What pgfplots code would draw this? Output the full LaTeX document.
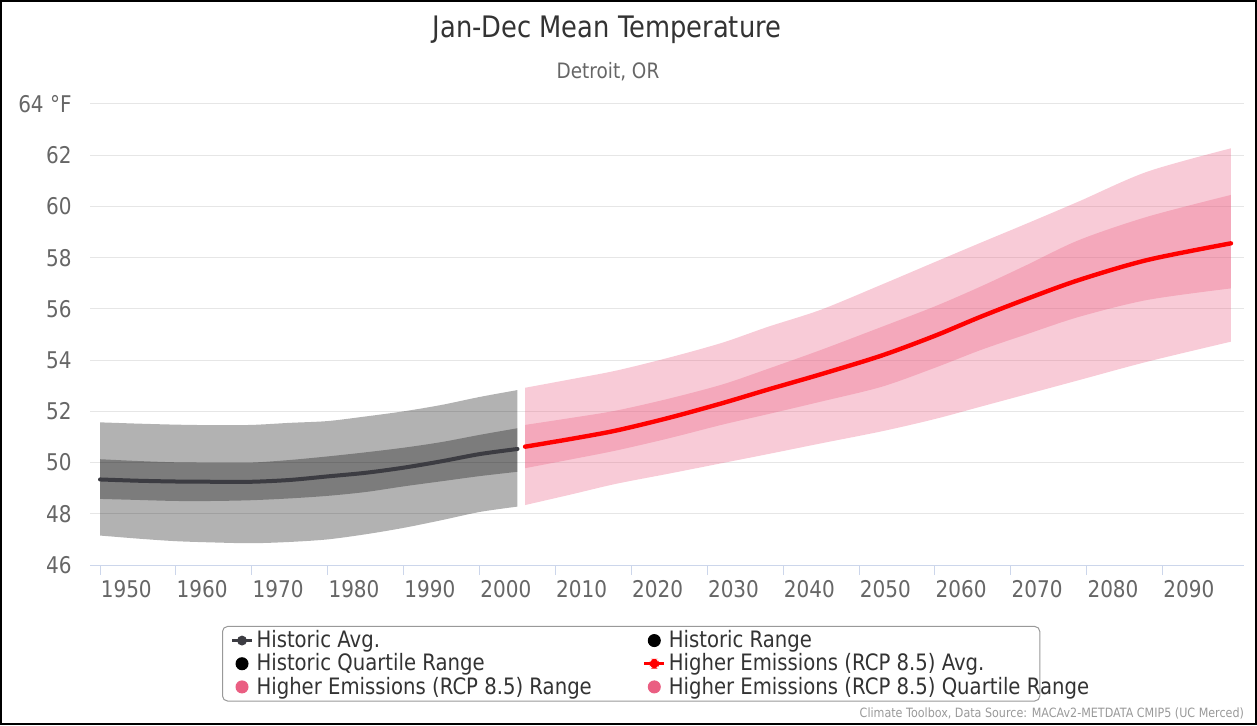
\documentclass[border=0pt]{standalone}
\usepackage{pgfplots}
\pgfplotsset{compat=1.18}
\usepackage{pgfplotstable}
\usepgfplotslibrary{fillbetween}
\usepackage{fontspec}
\setmainfont{DejaVu Sans}[FakeStretch=0.87]

\definecolor{histline}{RGB}{60,60,66}
\definecolor{futline}{RGB}{255,0,0}
\definecolor{futdot}{RGB}{234,94,130}
\definecolor{gridcol}{RGB}{230,230,230}
\definecolor{axiscol}{RGB}{204,214,235}
\definecolor{labelcol}{RGB}{102,102,102}
\definecolor{titlecol}{RGB}{51,51,51}
\definecolor{legborder}{RGB}{153,153,153}

% historic 1950-2005
\pgfplotstableread{
year lo    qlo   mean  qhi   hi
1950 47.15 48.58 49.34 50.13 51.57
1955 47.03 48.54 49.29 50.06 51.52
1960 46.93 48.50 49.26 50.01 51.48
1965 46.88 48.50 49.25 50.00 51.46
1970 46.85 48.53 49.25 50.00 51.47
1975 46.90 48.60 49.32 50.10 51.55
1980 47.00 48.70 49.46 50.24 51.62
1985 47.20 48.85 49.60 50.40 51.80
1990 47.45 49.07 49.80 50.58 52.00
1995 47.75 49.27 50.05 50.80 52.25
2000 48.07 49.47 50.33 51.08 52.56
2005 48.28 49.64 50.53 51.34 52.83
}\hist

% RCP 8.5, 2006-2099
\pgfplotstableread{
year lo    qlo   mean  qhi   hi
2006 48.34 49.78 50.62 51.47 52.92
2012 48.75 50.12 50.92 51.74 53.25
2018 49.17 50.47 51.25 52.03 53.59
2025 49.57 50.95 51.75 52.50 54.10
2032 49.98 51.48 52.32 53.05 54.68
2038 50.33 51.89 52.85 53.66 55.30
2045 50.75 52.38 53.45 54.40 55.97
2053 51.22 52.96 54.18 55.30 56.95
2060 51.70 53.70 54.95 56.10 57.83
2066 52.18 54.39 55.69 56.87 58.58
2072 52.66 55.00 56.38 57.70 59.32
2079 53.22 55.69 57.13 58.69 60.20
2088 53.94 56.35 57.91 59.60 61.36
2099 54.72 56.80 58.56 60.45 62.27
}\rcp

\begin{document}
\begin{tikzpicture}
\begin{axis}[
    at={(0,0)}, anchor=south west, name=ax,
    scale only axis, width=577pt, height=230.5pt,
    xmin=1948.68, xmax=2100.72, ymin=46, ymax=64,
    axis x line*=bottom, axis y line*=left,
    axis line style={-},
    x axis line style={draw=axiscol, line width=0.5pt},
    y axis line style={draw=none},
    xtick={1950,1960,...,2090},
    xticklabels={1950,1960,1970,1980,1990,2000,2010,2020,2030,2040,2050,2060,2070,2080,2090},
    ytick={46,48,...,64},
    yticklabels={46,48,50,52,54,56,58,60,62,64 °F},
    tick align=outside, major tick length=5pt,
    xtick style={draw=axiscol, line width=0.5pt},
    ytick style={draw=none},
    ymajorgrids, grid style={draw=gridcol, line width=0.5pt},
    tick label style={font=\fontsize{11.5}{13}\selectfont, text=labelcol},
    xticklabel style={anchor=north west, inner sep=0pt, xshift=0.2pt, yshift=-2.5pt},
    yticklabel style={anchor=east, inner sep=0pt, xshift=-4pt},
    legend columns=2,
    legend cell align=left,
    legend style={at={(axis description cs:0.1144,-0.1323)}, anchor=north west,
        draw=legborder, line width=0.5pt, rounded corners=2.5pt, fill=white,
        inner xsep=4pt, inner ysep=2pt,
        font=\fontsize{11.3}{13}\selectfont, text=titlecol,
        nodes={inner xsep=1.5pt, inner ysep=0pt},
        /tikz/every even column/.append style={column sep=24pt},
        row sep=1.5pt},
]
% historic bands
\addplot[draw=none, smooth, name path=hhi, forget plot] table[x=year, y=hi] {\hist};
\addplot[draw=none, smooth, name path=hlo, forget plot] table[x=year, y=lo] {\hist};
\addplot[draw=none, smooth, name path=hqhi, forget plot] table[x=year, y=qhi] {\hist};
\addplot[draw=none, smooth, name path=hqlo, forget plot] table[x=year, y=qlo] {\hist};
\addplot[fill=black, fill opacity=0.3, draw=none, forget plot] fill between[of=hhi and hlo];
\addplot[fill=black, fill opacity=0.3, draw=none, forget plot] fill between[of=hqhi and hqlo];
\addplot[histline, line width=2pt, line cap=round, smooth, forget plot] table[x=year, y=mean] {\hist};

% future bands
\addplot[draw=none, smooth, name path=fhi, forget plot] table[x=year, y=hi] {\rcp};
\addplot[draw=none, smooth, name path=flo, forget plot] table[x=year, y=lo] {\rcp};
\addplot[draw=none, smooth, name path=fqhi, forget plot] table[x=year, y=qhi] {\rcp};
\addplot[draw=none, smooth, name path=fqlo, forget plot] table[x=year, y=qlo] {\rcp};
\addplot[fill=futdot, fill opacity=0.32, draw=none, forget plot] fill between[of=fhi and flo];
\addplot[fill=futdot, fill opacity=0.32, draw=none, forget plot] fill between[of=fqhi and fqlo];
\addplot[futline, line width=2.2pt, line cap=round, smooth, forget plot] table[x=year, y=mean] {\rcp};

% legend
\addlegendimage{legend image code/.code={
    \draw[histline, line width=1.5pt] (0pt,0pt) -- (10pt,0pt);
    \fill[histline] (5pt,0pt) circle (2.2pt);}}
\addlegendentry{Historic Avg.}
\addlegendimage{legend image code/.code={\fill[black] (5pt,0pt) circle (3pt);}}
\addlegendentry{Historic Range}
\addlegendimage{legend image code/.code={\fill[black] (5pt,0pt) circle (3pt);}}
\addlegendentry{Historic Quartile Range}
\addlegendimage{legend image code/.code={
    \draw[futline, line width=1.5pt] (0pt,0pt) -- (10pt,0pt);
    \fill[futline] (3pt,-2.2pt) rectangle (7pt,2.2pt);}}
\addlegendentry{Higher Emissions (RCP 8.5) Avg.}
\addlegendimage{legend image code/.code={\fill[futdot] (5pt,0pt) circle (3pt);}}
\addlegendentry{Higher Emissions (RCP 8.5) Range}
\addlegendimage{legend image code/.code={\fill[futdot] (5pt,0pt) circle (3pt);}}
\addlegendentry{\makebox[180pt][l]{Higher Emissions (RCP 8.5) Quartile Range}}
\end{axis}

\node[font=\fontsize{14.8}{17}\selectfont, text=titlecol] at (258.5pt,267.5pt) {Jan-Dec Mean Temperature};
\node[font=\fontsize{10.6}{12}\selectfont, text=labelcol] at (259pt,246.5pt) {Detroit, OR};
\node[anchor=east, font=\fontsize{6.4}{7.5}\selectfont, text=legborder] at (580.5pt,-74pt)
    {Climate Toolbox, Data Source: MACAv2-METDATA CMIP5 (UC Merced)};
\draw[line width=1.2pt] (-44.4pt,-79.4pt) rectangle (582.9pt,281.9pt);
\end{tikzpicture}
\end{document}
